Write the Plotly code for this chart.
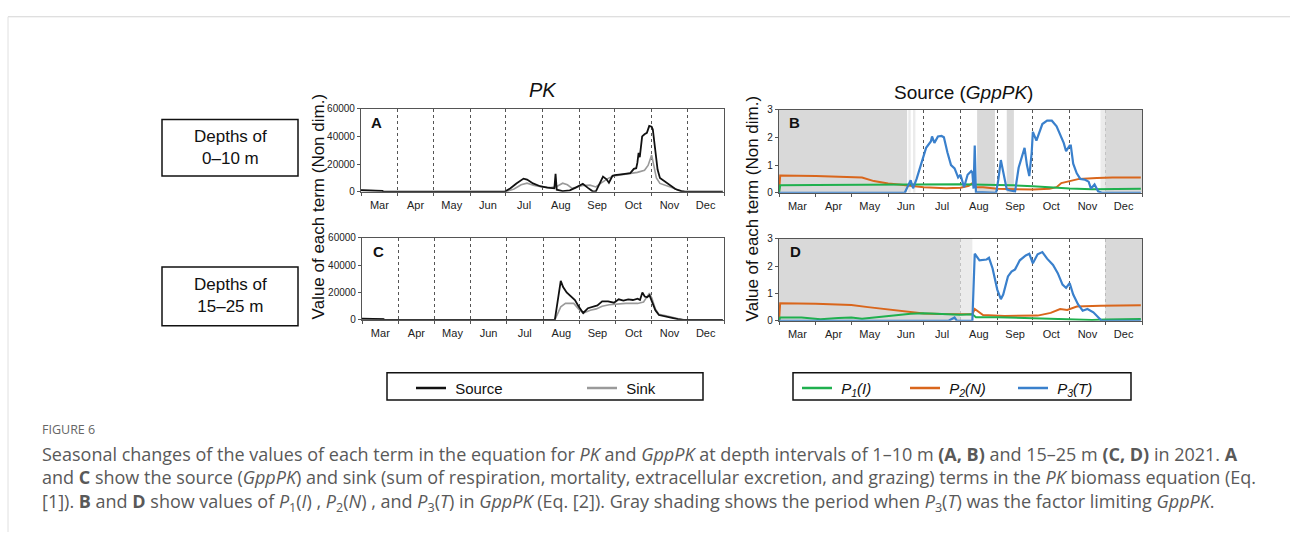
import plotly.graph_objects as go

W, H = 1290, 538

# ---------------- DATA ----------------
months = ["Mar", "Apr", "May", "Jun", "Jul", "Aug", "Sep", "Oct", "Nov", "Dec"]

# Panel A (0-10 m): Source / Sink
a_src_dates = ["2021-03-01", "2021-03-10", "2021-03-19", "2021-03-20", "2021-06-30", "2021-07-05", "2021-07-10",
               "2021-07-16", "2021-07-19", "2021-07-24", "2021-07-30", "2021-08-05", "2021-08-11", "2021-08-12",
               "2021-08-13", "2021-08-18", "2021-08-24", "2021-08-29", "2021-09-04", "2021-09-08", "2021-09-12",
               "2021-09-15", "2021-09-21", "2021-09-24", "2021-09-26", "2021-09-29", "2021-10-01", "2021-10-08",
               "2021-10-14", "2021-10-17", "2021-10-19", "2021-10-20", "2021-10-21", "2021-10-22", "2021-10-24",
               "2021-10-26", "2021-10-28", "2021-10-30", "2021-11-01", "2021-11-02", "2021-11-04", "2021-11-06",
               "2021-11-08", "2021-11-11", "2021-11-14", "2021-11-17", "2021-11-21", "2021-11-26", "2021-11-29",
               "2021-12-31"]
a_src_vals = [1200, 900, 700, 0, 0, 2500, 6000,
              9500, 8800, 6000, 4000, 3000, 2500, 13000,
              1500, 500, 1000, 3000, 5800, 3000, 500,
              300, 11000, 9000, 6500, 11500, 12000, 12800,
              13500, 16500, 17000, 21000, 28000, 25000, 40000,
              41500, 42500, 47500, 47000, 45000, 28000, 16000,
              10000, 8000, 6500, 4500, 2000, 500, 0,
              0]

a_snk_dates = ["2021-03-01", "2021-03-19", "2021-03-20", "2021-07-01", "2021-07-08", "2021-07-14", "2021-07-19",
               "2021-07-25", "2021-08-01", "2021-08-08", "2021-08-13", "2021-08-18", "2021-08-22", "2021-08-26",
               "2021-08-30", "2021-09-04", "2021-09-10", "2021-09-15", "2021-09-19", "2021-09-25", "2021-09-30",
               "2021-10-10", "2021-10-20", "2021-10-26", "2021-10-29", "2021-11-01", "2021-11-03", "2021-11-05",
               "2021-11-08", "2021-11-12", "2021-11-18", "2021-11-24", "2021-11-29", "2021-12-31"]
a_snk_vals = [1000, 600, 0, 0, 2000, 5000, 6200,
              4500, 3500, 3000, 3800, 6200, 5000, 2500,
              3500, 4500, 4800, 3500, 6000, 9500, 11500,
              12500, 14000, 15500, 19000, 26500, 18000, 10000,
              6000, 5000, 3000, 1000, 0, 0]

# Panel C (15-25 m): Source / Sink
c_src_dates = ["2021-03-01", "2021-03-19", "2021-03-20", "2021-08-11", "2021-08-16", "2021-08-18", "2021-08-21",
               "2021-08-25", "2021-08-28", "2021-08-31", "2021-09-04", "2021-09-08", "2021-09-12", "2021-09-16",
               "2021-09-20", "2021-09-25", "2021-09-30", "2021-10-04", "2021-10-08", "2021-10-12", "2021-10-16",
               "2021-10-20", "2021-10-22", "2021-10-24", "2021-10-26", "2021-10-28", "2021-10-30", "2021-11-01",
               "2021-11-04", "2021-11-07", "2021-11-12", "2021-11-18", "2021-11-23", "2021-11-28", "2021-12-31"]
c_src_vals = [800, 600, 0, 0, 28500, 24000, 20000,
              17000, 14500, 10000, 5000, 8500, 9500, 10500,
              13500, 13500, 12500, 15000, 14000, 15000, 14500,
              15500, 14500, 20000, 17000, 16500, 18000, 14000,
              7000, 3500, 2500, 1500, 500, 0, 0]

c_snk_dates = ["2021-03-01", "2021-03-19", "2021-03-20", "2021-08-11", "2021-08-16", "2021-08-20", "2021-08-27",
               "2021-08-31", "2021-09-04", "2021-09-10", "2021-09-15", "2021-09-20", "2021-09-26", "2021-10-01",
               "2021-10-10", "2021-10-20", "2021-10-25", "2021-10-30", "2021-11-01", "2021-11-04", "2021-11-07",
               "2021-11-13", "2021-11-20", "2021-11-27", "2021-12-31"]
c_snk_vals = [800, 600, 0, 0, 9500, 12000, 12000,
              8000, 5000, 7000, 8000, 10000, 11000, 11500,
              12000, 12000, 13000, 19500, 16000, 8000, 4000,
              3000, 1500, 0, 0]

# Panel B (0-10 m): P1(I), P2(N), P3(T)
b_p1_dates = ["2021-03-01", "2021-03-02", "2021-04-01", "2021-05-01", "2021-06-01", "2021-07-01", "2021-08-01",
              "2021-09-01", "2021-09-15", "2021-10-01", "2021-10-15", "2021-11-01", "2021-11-20", "2021-12-31"]
b_p1_vals = [0, 0.27, 0.28, 0.29, 0.31, 0.32, 0.31,
             0.28, 0.27, 0.23, 0.19, 0.15, 0.13, 0.14]

b_p2_dates = ["2021-03-01", "2021-03-02", "2021-04-01", "2021-05-01", "2021-05-10", "2021-05-20", "2021-06-01",
              "2021-06-10", "2021-06-20", "2021-07-01", "2021-07-20", "2021-08-01", "2021-08-08", "2021-08-12",
              "2021-08-14", "2021-08-20", "2021-09-01", "2021-09-15", "2021-10-01", "2021-10-15", "2021-10-21",
              "2021-10-25", "2021-10-29", "2021-11-09", "2021-11-24", "2021-12-07", "2021-12-31"]
b_p2_vals = [0, 0.62, 0.6, 0.57, 0.55, 0.42, 0.33,
             0.3, 0.24, 0.2, 0.16, 0.18, 0.25, 0.38,
             0.2, 0.2, 0.14, 0.12, 0.12, 0.14, 0.2,
             0.35, 0.39, 0.5, 0.53, 0.55, 0.55]

b_p3_dates = ["2021-03-01", "2021-06-15", "2021-06-20", "2021-06-22", "2021-06-25", "2021-06-29", "2021-07-03",
              "2021-07-07", "2021-07-08", "2021-07-10", "2021-07-13", "2021-07-16", "2021-07-18", "2021-07-21",
              "2021-07-24", "2021-07-27", "2021-07-30", "2021-08-01", "2021-08-04", "2021-08-07", "2021-08-10",
              "2021-08-11", "2021-08-12", "2021-08-13", "2021-08-14", "2021-08-31", "2021-09-02", "2021-09-04",
              "2021-09-06", "2021-09-09", "2021-09-12", "2021-09-16", "2021-09-19", "2021-09-22", "2021-09-24",
              "2021-09-26", "2021-09-28", "2021-09-30", "2021-10-01", "2021-10-04", "2021-10-06", "2021-10-09",
              "2021-10-13", "2021-10-17", "2021-10-21", "2021-10-24", "2021-10-27", "2021-10-29", "2021-11-01",
              "2021-11-02", "2021-11-04", "2021-11-07", "2021-11-10", "2021-11-14", "2021-11-17", "2021-11-19",
              "2021-11-22", "2021-11-25", "2021-11-28", "2021-12-31"]
b_p3_vals = [0, 0, 0.45, 0.16, 0.5, 1.09, 1.62,
             1.85, 2.03, 1.8, 2.03, 2.05, 2.0, 1.45,
             1.0, 0.88, 0.55, 0.65, 0.2, 0.65, 0.78,
             0.73, 0.15, 1.7, 0.02, 0, 0.5, 1.18,
             0.7, 0.12, 0.08, 0.05, 0.9, 1.35, 1.62,
             1.0, 0.6, 1.44, 2.2, 1.88, 2.15, 2.48,
             2.6, 2.6, 2.4, 2.1, 1.8, 1.5, 1.7,
             1.7, 1.05, 0.7, 0.5, 0.47, 0.4, 0.15,
             0.3, 0.05, 0, 0]

# Panel D (15-25 m): P1(I), P2(N), P3(T)
d_p1_dates = ["2021-03-01", "2021-03-02", "2021-03-20", "2021-04-05", "2021-04-20", "2021-05-01", "2021-05-10",
              "2021-05-25", "2021-06-05", "2021-06-20", "2021-07-01", "2021-07-15", "2021-08-01", "2021-08-11",
              "2021-08-14", "2021-09-01", "2021-10-01", "2021-10-20", "2021-11-01", "2021-11-20", "2021-12-01",
              "2021-12-31"]
d_p1_vals = [0, 0.12, 0.12, 0.06, 0.1, 0.12, 0.08,
             0.15, 0.2, 0.26, 0.28, 0.26, 0.22, 0.24,
             0.13, 0.13, 0.1, 0.07, 0.05, 0.03, 0.05,
             0.07]

d_p2_dates = ["2021-03-01", "2021-03-02", "2021-04-01", "2021-05-01", "2021-05-15", "2021-06-01", "2021-06-15",
              "2021-07-01", "2021-07-15", "2021-08-01", "2021-08-11", "2021-08-13", "2021-08-17", "2021-08-20",
              "2021-09-07", "2021-10-05", "2021-10-16", "2021-10-24", "2021-10-30", "2021-11-07", "2021-11-27",
              "2021-12-31"]
d_p2_vals = [0, 0.64, 0.62, 0.58, 0.5, 0.42, 0.34,
             0.27, 0.25, 0.24, 0.24, 0.43, 0.3, 0.21,
             0.18, 0.19, 0.29, 0.43, 0.4, 0.52, 0.55,
             0.57]

d_p3_dates = ["2021-03-01", "2021-07-22", "2021-07-27", "2021-07-29", "2021-08-11", "2021-08-13", "2021-08-17",
              "2021-08-23", "2021-08-25", "2021-08-28", "2021-09-01", "2021-09-04", "2021-09-06", "2021-09-10",
              "2021-09-13", "2021-09-16", "2021-09-20", "2021-09-25", "2021-09-28", "2021-10-01", "2021-10-05",
              "2021-10-09", "2021-10-13", "2021-10-18", "2021-10-22", "2021-10-26", "2021-10-29", "2021-11-01",
              "2021-11-04", "2021-11-08", "2021-11-12", "2021-11-16", "2021-11-21", "2021-11-24", "2021-11-28",
              "2021-12-31"]
d_p3_vals = [0, 0, 0.12, 0, 0, 2.45, 2.21,
             2.24, 2.3, 1.92, 1.14, 0.79, 0.96, 1.62,
             1.8, 1.88, 2.21, 2.39, 2.45, 2.1, 2.43,
             2.51, 2.27, 2.04, 1.74, 1.32, 1.2, 1.38,
             0.96, 0.61, 0.37, 0.43, 0.31, 0.17, 0,
             0]

# Periods when P3(T) limits GppPK (gray shading)
b_shade_start = ["2021-03-01", "2021-06-18", "2021-06-22", "2021-08-15", "2021-09-09", "2021-11-27", "2021-12-01"]
b_shade_end = ["2021-06-17", "2021-06-20", "2021-06-24", "2021-08-30", "2021-09-15", "2021-12-01", "2022-01-01"]
b_shade_tone = ["dark", "light", "light", "dark", "dark", "light", "dark"]

d_shade_start = ["2021-03-01", "2021-08-01", "2021-12-01"]
d_shade_end = ["2021-08-01", "2021-08-11", "2022-01-01"]
d_shade_tone = ["dark", "light", "dark"]

# ---------------- FIGURE ----------------
BLACK = "#111111"
GRAY = "#9a9a9a"
GREEN = "#1fb04e"
ORANGE = "#d9661c"
BLUE = "#3a80cc"
DARK_SHADE = "#d9d9d9"
LIGHT_SHADE = "#ebebeb"
FONT = "Liberation Sans, Arial, sans-serif"
NB = "\u00a0"

fig = go.Figure()

# gray shading as filled traces (drawn above gridlines, below lines)
def add_shading(starts, ends, tones, xa, ya, top):
    for s, e, t in zip(starts, ends, tones):
        c = DARK_SHADE if t == "dark" else LIGHT_SHADE
        fig.add_trace(go.Scatter(x=[s, s, e, e, s], y=[0, top, top, 0, 0], mode="lines",
                                 fill="toself", fillcolor=c, line=dict(width=0, color=c),
                                 xaxis=xa, yaxis=ya, showlegend=False, hoverinfo="skip"))

add_shading(b_shade_start, b_shade_end, b_shade_tone, "x2", "y2", 3)
add_shading(d_shade_start, d_shade_end, d_shade_tone, "x4", "y4", 3)

def add_line(x, y, color, width, xa, ya, name):
    fig.add_trace(go.Scatter(x=x, y=y, mode="lines", name=name,
                             line=dict(color=color, width=width),
                             xaxis=xa, yaxis=ya, showlegend=False))

add_line(a_snk_dates, a_snk_vals, GRAY, 1.6, "x", "y", "Sink")
add_line(a_src_dates, a_src_vals, BLACK, 1.8, "x", "y", "Source")
add_line(c_snk_dates, c_snk_vals, GRAY, 1.6, "x3", "y3", "Sink")
add_line(c_src_dates, c_src_vals, BLACK, 1.8, "x3", "y3", "Source")

add_line(b_p2_dates, b_p2_vals, ORANGE, 2, "x2", "y2", "P2")
add_line(b_p1_dates, b_p1_vals, GREEN, 2, "x2", "y2", "P1")
add_line(b_p3_dates, b_p3_vals, BLUE, 2.2, "x2", "y2", "P3")
add_line(d_p2_dates, d_p2_vals, ORANGE, 2, "x4", "y4", "P2")
add_line(d_p1_dates, d_p1_vals, GREEN, 2, "x4", "y4", "P1")
add_line(d_p3_dates, d_p3_vals, BLUE, 2.2, "x4", "y4", "P3")

# legend entries
def add_leg(name, color, xa, ya, legend):
    fig.add_trace(go.Scatter(x=[None], y=[None], mode="lines", name=name,
                             line=dict(color=color, width=2.4), xaxis=xa, yaxis=ya, legend=legend))

add_leg(NB + "Source", BLACK, "x", "y", "legend")
add_leg(NB + "Sink", GRAY, "x", "y", "legend")
add_leg(NB + "<i>P<sub>1</sub>(I)</i>", GREEN, "x2", "y2", "legend2")
add_leg(NB + "<i>P<sub>2</sub>(N)</i>", ORANGE, "x2", "y2", "legend2")
add_leg(NB + "<i>P<sub>3</sub>(T)</i>", BLUE, "x2", "y2", "legend2")

def xax(domain, anchor):
    return dict(domain=domain, anchor=anchor, type="date",
                range=["2021-03-01", "2022-01-01"], tick0="2021-03-01", dtick="M1",
                tickformat="%b", ticklabelmode="period",
                showgrid=True, gridcolor="#555555", griddash="dot", gridwidth=1,
                showline=True, mirror=True, linecolor="#555555", linewidth=1.2,
                ticks="outside", ticklen=3, tickcolor="#555555",
                tickfont=dict(size=11, color="#222222", family=FONT), zeroline=False,
                layer="above traces")

def yax(domain, anchor, rng, dtick):
    return dict(domain=domain, anchor=anchor, range=rng, dtick=dtick, tickformat="d",
                showgrid=False, zeroline=False, showline=True, mirror=True,
                linecolor="#555555", linewidth=1.2, ticks="outside", ticklen=3,
                tickcolor="#555555", tickfont=dict(size=10, color="#222222", family=FONT))

fig.update_layout(
    width=W, height=H, margin=dict(l=0, r=0, t=0, b=0),
    paper_bgcolor="white", plot_bgcolor="white",
    font=dict(family=FONT, color="#111111"),
    xaxis=xax([361 / W, 724 / W], "y"),
    yaxis=yax([1 - 190 / H, 1 - 105 / H], "x", [0, 60000], 20000),
    xaxis2=xax([779 / W, 1142 / W], "y2"),
    yaxis2=yax([1 - 191 / H, 1 - 106 / H], "x2", [0, 3], 1),
    xaxis3=xax([362 / W, 724 / W], "y3"),
    yaxis3=yax([1 - 321 / H, 1 - 237 / H], "x3", [0, 60000], 20000),
    xaxis4=xax([779 / W, 1142 / W], "y4"),
    yaxis4=yax([1 - 322 / H, 1 - 238 / H], "x4", [0, 3], 1),
    legend=dict(orientation="h", x=411 / W, y=1 - 391 / H, xanchor="left", yanchor="middle",
                bgcolor="rgba(0,0,0,0)", borderwidth=0, entrywidth=126, entrywidthmode="pixels",
                font=dict(size=15, family=FONT, color="#111111")),
    legend2=dict(orientation="h", x=797 / W, y=1 - 391 / H, xanchor="left", yanchor="middle",
                 bgcolor="rgba(0,0,0,0)", borderwidth=0, entrywidth=63, entrywidthmode="pixels",
                 font=dict(size=15, family=FONT, color="#111111")),
)

shapes = []

def prect(x0, y0, x1, y1, color="#111111", width=1.5):
    return dict(type="rect", xref="paper", yref="paper", x0=x0 / W, x1=x1 / W,
                y0=1 - y1 / H, y1=1 - y0 / H, line=dict(color=color, width=width))

shapes.append(prect(162, 116, 298, 174))
shapes.append(prect(162, 267, 298, 327))
shapes.append(prect(387, 375, 703, 403))
shapes.append(prect(793, 375, 1131, 403))
# outer frame
shapes.append(dict(type="line", xref="paper", yref="paper", x0=8 / W, x1=1, y0=1 - 11 / H, y1=1 - 11 / H,
                   line=dict(color="#d4d4d4", width=1)))
shapes.append(dict(type="line", xref="paper", yref="paper", x0=8 / W, x1=8 / W, y0=0, y1=1 - 11 / H,
                   line=dict(color="#e0e0e0", width=1)))
fig.update_layout(shapes=shapes)

ann = []
def pann(x, y, text, size, **kw):
    d = dict(xref="paper", yref="paper", x=x / W, y=1 - y / H, text=text, showarrow=False,
             xanchor=kw.pop("xanchor", "center"), yanchor="middle",
             font=dict(size=size, family=kw.pop("family", FONT), color=kw.pop("color", "#111111")))
    d.update(kw)
    ann.append(d)

pann(543, 86, "<i>PK</i>", 20)
pann(963, 88, "Source (<i>GppPK</i>)", 19)
pann(377, 119, "<b>A</b>", 15)
pann(794, 119, "<b>B</b>", 15)
pann(378, 251, "<b>C</b>", 15)
pann(795, 251, "<b>D</b>", 15)
pann(318, 205, "Value of each term (Non dim.)", 17, textangle=-90)
pann(752, 207, "Value of each term (Non dim.)", 17, textangle=-90)
pann(230, 145, "Depths of<br>0\u201310 m", 17)
pann(230, 296, "Depths of<br>15\u201325 m", 17)

CAP = "Open Sans, sans-serif"
pann(40, 433, "FIGURE 6", 12.5, family=CAP, color="#666666", xanchor="left")
pann(40, 458, "Seasonal changes of the values of each term in the equation for <i>PK</i> and <i>GppPK</i> at depth "
     "intervals of 1\u201310 m <b>(A, B)</b> and 15\u201325 m <b>(C, D)</b> in 2021. <b>A</b>",
     18.0, family=CAP, color="#595959", xanchor="left")
pann(40, 482, "and <b>C</b> show the source (<i>GppPK</i>) and sink (sum of respiration, mortality, extracellular "
     "excretion, and grazing) terms in the <i>PK</i> biomass equation (Eq.",
     18.0, family=CAP, color="#595959", xanchor="left")
pann(40, 508, "[1]). <b>B</b> and <b>D</b> show values of <i>P</i><sub>1</sub>(<i>I</i>) , <i>P</i><sub>2</sub>(<i>N</i>) , "
     "and <i>P</i><sub>3</sub>(<i>T</i>) in <i>GppPK</i> (Eq. [2]). Gray shading shows the period when "
     "<i>P</i><sub>3</sub>(<i>T</i>) was the factor limiting <i>GppPK</i>.",
     18.0, family=CAP, color="#595959", xanchor="left")
fig.update_layout(annotations=ann)

fig.write_html("out.html")
